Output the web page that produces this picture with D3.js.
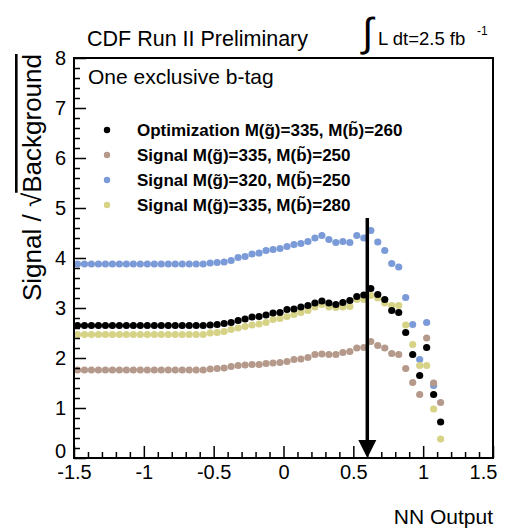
<!DOCTYPE html>
<html><head><meta charset="utf-8">
<script src="https://cdn.jsdelivr.net/npm/d3@7"></script>
<style>
body{margin:0;background:#fff}
svg{display:block}
text{font-family:"Liberation Sans",Arial,Helvetica,sans-serif}
</style>
</head><body>
<svg id="c" width="510" height="530"></svg>
<script>
// ---- data ----
const xValues = [-1.475,-1.425,-1.375,-1.325,-1.275,-1.225,-1.175,-1.125,-1.075,-1.025,
  -0.975,-0.925,-0.875,-0.825,-0.775,-0.725,-0.675,-0.625,-0.575,-0.525,
  -0.475,-0.425,-0.375,-0.325,-0.275,-0.225,-0.175,-0.125,-0.075,-0.025,
  0.025,0.075,0.125,0.175,0.225,0.275,0.325,0.375,0.425,0.475,
  0.525,0.575,0.625,0.675,0.725,0.775,0.825,0.875,0.925,0.975,
  1.025,1.075,1.125];
const optimization335_260 = [2.65,2.65,2.65,2.65,2.65,2.65,2.65,2.65,2.65,2.65,
  2.65,2.65,2.65,2.65,2.65,2.65,2.65,2.65,2.65,2.66,
  2.67,2.69,2.71,2.75,2.78,2.82,2.83,2.86,2.90,2.91,
  2.97,2.98,3.02,3.05,3.10,3.14,3.10,3.07,3.11,3.15,
  3.23,3.26,3.39,3.27,3.17,2.95,2.91,2.51,2.07,1.65,
  2.21,1.27,0.72];
const signal335_250 = [1.76,1.76,1.76,1.76,1.76,1.76,1.76,1.76,1.76,1.76,
  1.76,1.76,1.76,1.76,1.76,1.76,1.76,1.76,1.76,1.78,
  1.79,1.80,1.83,1.85,1.86,1.87,1.87,1.89,1.90,1.91,
  1.93,1.97,1.98,2.01,2.07,2.08,2.07,2.07,2.11,2.13,
  2.20,2.21,2.33,2.25,2.20,2.09,2.07,1.79,1.51,1.27,
  2.40,1.50,1.11];
const signal320_250 = [3.88,3.88,3.88,3.88,3.88,3.88,3.88,3.88,3.88,3.88,
  3.88,3.88,3.88,3.88,3.88,3.88,3.88,3.88,3.88,3.90,
  3.91,3.92,3.95,4.01,4.03,4.08,4.10,4.15,4.17,4.19,
  4.23,4.27,4.29,4.33,4.40,4.45,4.37,4.31,4.33,4.31,
  4.45,4.40,4.55,4.32,4.15,3.89,3.82,3.21,2.67,1.97,
  2.71,1.45];
const signal335_280 = [2.47,2.47,2.47,2.47,2.47,2.47,2.47,2.47,2.47,2.47,
  2.47,2.47,2.47,2.47,2.47,2.47,2.47,2.47,2.47,2.50,
  2.51,2.53,2.57,2.60,2.63,2.66,2.68,2.71,2.77,2.79,
  2.83,2.87,2.91,2.95,3.02,3.07,3.02,3.01,3.02,3.03,
  3.17,3.17,3.25,3.20,3.10,3.05,3.05,2.66,2.27,1.85,
  1.85,0.98,0.38];
const xTickLabels = ["-1.5","-1","-0.5","0","0.5","1","1.5"];
const yTickLabels = ["0","1","2","3","4","5","6","7","8"];
const legendLabels = [
  "Optimization M(g\u0303)=335, M(b\u0303)=260",
  "Signal M(g\u0303)=335, M(b\u0303)=250",
  "Signal M(g\u0303)=320, M(b\u0303)=250",
  "Signal M(g\u0303)=335, M(b\u0303)=280"];
const seriesColors = ["#000000","#b59a8b","#7b9bd8","#d6d286"];
const cutValue = 0.6;
const cutArrowTop = 4.8;

// ---- layout ----
const svg = d3.select("#c");
const L = 74, R = 493, T = 58, B = 458;
const x = d3.scaleLinear().domain([-1.5, 1.5]).range([L, R]);
const y = d3.scaleLinear().domain([0, 8]).range([B, T]);

// series in draw order (blue, brown, yellow, black on top)
const series = [
  {vals: signal320_250, color: seriesColors[2]},
  {vals: signal335_250, color: seriesColors[1]},
  {vals: signal335_280, color: seriesColors[3]},
  {vals: optimization335_260, color: seriesColors[0]}
];
series.forEach(s => {
  svg.append("g").selectAll("circle").data(s.vals).join("circle")
    .attr("cx", (d, i) => x(xValues[i]))
    .attr("cy", d => y(d))
    .attr("r", 3.6)
    .attr("fill", s.color);
});

// axes
const xMajor = xTickLabels.map(Number);
const xMinor = d3.range(-15, 16).map(v => v / 10).filter(v => Math.abs(v * 2 - Math.round(v * 2)) > 1e-6);
const yMajor = yTickLabels.map(Number);
const yMinor = d3.range(0, 41).map(v => v / 5).filter(v => Math.abs(v - Math.round(v)) > 1e-6);

const gx = svg.append("g").attr("transform", `translate(0,${B})`)
  .call(d3.axisBottom(x).tickValues(xMajor).tickFormat((d, i) => xTickLabels[i]).tickSize(-12).tickPadding(7));
svg.append("g").attr("transform", `translate(0,${B})`)
  .call(d3.axisBottom(x).tickValues(xMinor).tickFormat("").tickSize(-6));
const gy = svg.append("g").attr("transform", `translate(${L},0)`)
  .call(d3.axisLeft(y).tickValues(yMajor).tickFormat((d, i) => yTickLabels[i]).tickSize(-12).tickPadding(8));
svg.append("g").attr("transform", `translate(${L},0)`)
  .call(d3.axisLeft(y).tickValues(yMinor).tickFormat("").tickSize(-6));
svg.selectAll(".domain").remove();
svg.selectAll(".tick line").attr("stroke", "#000").attr("stroke-width", 1.5);
svg.selectAll(".tick text").attr("font-size", 20).attr("fill", "#000")
  .style("font-family", '"Liberation Sans",Arial,sans-serif');
// last x label sits inside the frame edge, first y label nudged up
gx.selectAll(".tick text").filter((d, i) => i === xMajor.length - 1).attr("dx", -10);
gy.selectAll(".tick text").filter((d, i) => i === 0).attr("dy", "-0.05em");

// frame
svg.append("rect").attr("x", L).attr("y", T).attr("width", R - L).attr("height", B - T)
  .attr("fill", "none").attr("stroke", "#000").attr("stroke-width", 2);

// cut arrow
const ax = x(cutValue);
svg.append("line").attr("x1", ax).attr("x2", ax).attr("y1", y(cutArrowTop)).attr("y2", y(0) - 16)
  .attr("stroke", "#000").attr("stroke-width", 3.5);
svg.append("path").attr("d", `M${ax - 9},${y(0) - 18}L${ax + 9},${y(0) - 18}L${ax},${y(0)}Z`).attr("fill", "#000");

// legend
const lg = svg.append("g");
legendLabels.forEach((t, i) => {
  const cy = 130 + i * 25;
  lg.append("circle").attr("cx", 107).attr("cy", cy).attr("r", 3.2).attr("fill", seriesColors[i]);
  lg.append("text").attr("x", 137).attr("y", cy + 6).attr("font-size", 17).attr("font-weight", "bold").text(t);
});

// texts
svg.append("text").attr("x", 87).attr("y", 46).attr("font-size", 21.5).text("CDF Run II Preliminary");
svg.append("text").attr("x", 88).attr("y", 84).attr("font-size", 21).text("One exclusive b-tag");
svg.append("text").attr("x", 362).attr("y", 46).attr("font-size", 40).text("\u222B");
svg.append("text").attr("x", 378).attr("y", 45).attr("font-size", 18.5).text("L dt=2.5 fb");
svg.append("text").attr("x", 477).attr("y", 35).attr("font-size", 12).text("-1");
svg.append("text").attr("x", R).attr("y", 524).attr("text-anchor", "end").attr("font-size", 21).text("NN Output");

// y title
const yt = svg.append("text").attr("transform", "translate(41,301) rotate(-90)").attr("font-size", 26);
yt.append("tspan").text("Signal / ");
yt.append("tspan").text("\u221A");
yt.append("tspan").attr("text-decoration", "overline").text("Background");
</script>
</body></html>
